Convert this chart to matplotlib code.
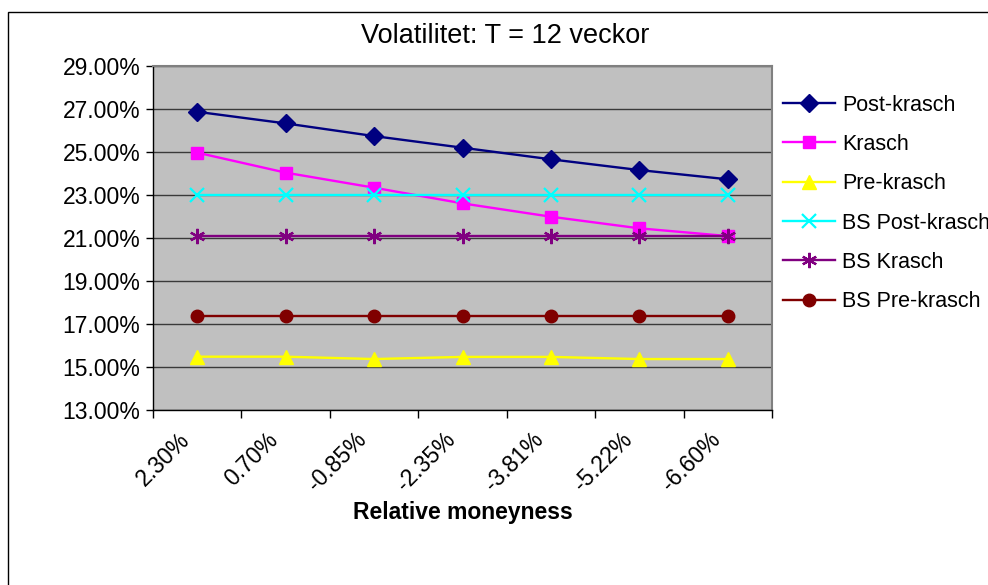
import matplotlib
matplotlib.use("Agg")
import matplotlib.pyplot as plt
from matplotlib.patches import Rectangle
from matplotlib.ticker import FixedLocator, FuncFormatter
from matplotlib.transforms import ScaledTranslation

plt.rcParams['font.family'] = ['Liberation Sans', 'DejaVu Sans']

categories = ["2.30%", "0.70%", "-0.85%", "-2.35%", "-3.81%", "-5.22%", "-6.60%"]

post_krasch = [26.87, 26.33, 25.74, 25.20, 24.66, 24.16, 23.73]
krasch = [24.97, 24.04, 23.34, 22.61, 21.99, 21.45, 21.09]
pre_krasch = [15.48, 15.48, 15.37, 15.47, 15.47, 15.37, 15.37]
bs_post_krasch = [23.00, 23.00, 23.00, 23.00, 23.00, 23.00, 23.00]
bs_krasch = [21.11, 21.11, 21.11, 21.11, 21.11, 21.11, 21.11]
bs_pre_krasch = [17.35, 17.35, 17.35, 17.35, 17.35, 17.35, 17.35]

y_ticks = [13, 15, 17, 19, 21, 23, 25, 27, 29]

series = [
    ("Post-krasch", post_krasch, "#000080", "D", 9, None),
    ("Krasch", krasch, "#FF00FF", "s", 9, None),
    ("Pre-krasch", pre_krasch, "#FFFF00", "^", 10, None),
    ("BS Post-krasch", bs_post_krasch, "#00FFFF", "x", 10, 1.6),
    ("BS Krasch", bs_krasch, "#800080", (6, 2, 0), 11, 1.6),
    ("BS Pre-krasch", bs_pre_krasch, "#800000", "o", 9, None),
]

W, H = 988, 585
fig = plt.figure(figsize=(W / 100, H / 100), dpi=100)
fig.patch.set_facecolor("white")

left, right, top, bottom = 153, 772, 66, 410
ax = fig.add_axes([left / W, 1 - bottom / H, (right - left) / W, (bottom - top) / H])
ax.set_facecolor("#C0C0C0")

x = list(range(len(categories)))
for name, vals, color, marker, ms, mew in series:
    kw = {}
    if mew is not None:
        kw["markeredgewidth"] = mew
    ax.plot(x, vals, color=color, lw=1.7, marker=marker, markersize=ms,
            markerfacecolor=color, markeredgecolor=color, label=name, zorder=3, **kw)

ax.set_xlim(-0.5, len(categories) - 0.5)
ax.set_ylim(13, 29)
ax.yaxis.set_major_locator(FixedLocator(y_ticks))
ax.yaxis.set_major_formatter(FuncFormatter(lambda v, p: f"{v:.2f}%"))
ax.grid(axis="y", color="#3a3a3a", lw=1, zorder=1)
ax.set_axisbelow(True)

# category labels at centres, tick marks at category boundaries
ax.set_xticks(x)
ax.set_xticklabels(categories, rotation=45, ha="right", va="center",
                   rotation_mode="anchor", fontsize=16.5)
ax.tick_params(axis="x", length=0, pad=19)
shift = ScaledTranslation(-11 / 100, 0, fig.dpi_scale_trans)
for lab in ax.get_xticklabels():
    lab.set_transform(lab.get_transform() + shift)
ax.set_xticks([i - 0.5 for i in range(len(categories) + 1)], minor=True)
ax.tick_params(axis="x", which="minor", length=6, width=1, color="black", direction="out")
ax.tick_params(axis="y", length=5, width=1, color="black", direction="out", labelsize=16.5, pad=4)

for side in ("top", "right"):
    ax.spines[side].set_color("#808080")
    ax.spines[side].set_linewidth(1.5)
for side in ("left", "bottom"):
    ax.spines[side].set_color("black")
    ax.spines[side].set_linewidth(1)

ax.set_xlabel("Relative moneyness", fontsize=16.5, fontweight="bold")
ax.xaxis.label.set_va("center")
ax.xaxis.set_label_coords((463 - left) / (right - left), -(513 - bottom) / (bottom - top))

fig.text(505 / W, 1 - 36 / H, "Volatilitet: T = 12 veckor", ha="center", va="center", fontsize=19.5)

fig.legend(loc="upper left", bbox_to_anchor=(774 / W, 1 - 86 / H), frameon=False,
           fontsize=15.5, handlelength=2.45, handletextpad=0.3, labelspacing=0.85,
           borderaxespad=0)

fig.add_artist(Rectangle((8 / W, -0.1), 1.5, (H - 12) / H + 0.1, transform=fig.transFigure,
                         fill=False, edgecolor="black", lw=1))

fig.savefig("out.png", dpi=100)
